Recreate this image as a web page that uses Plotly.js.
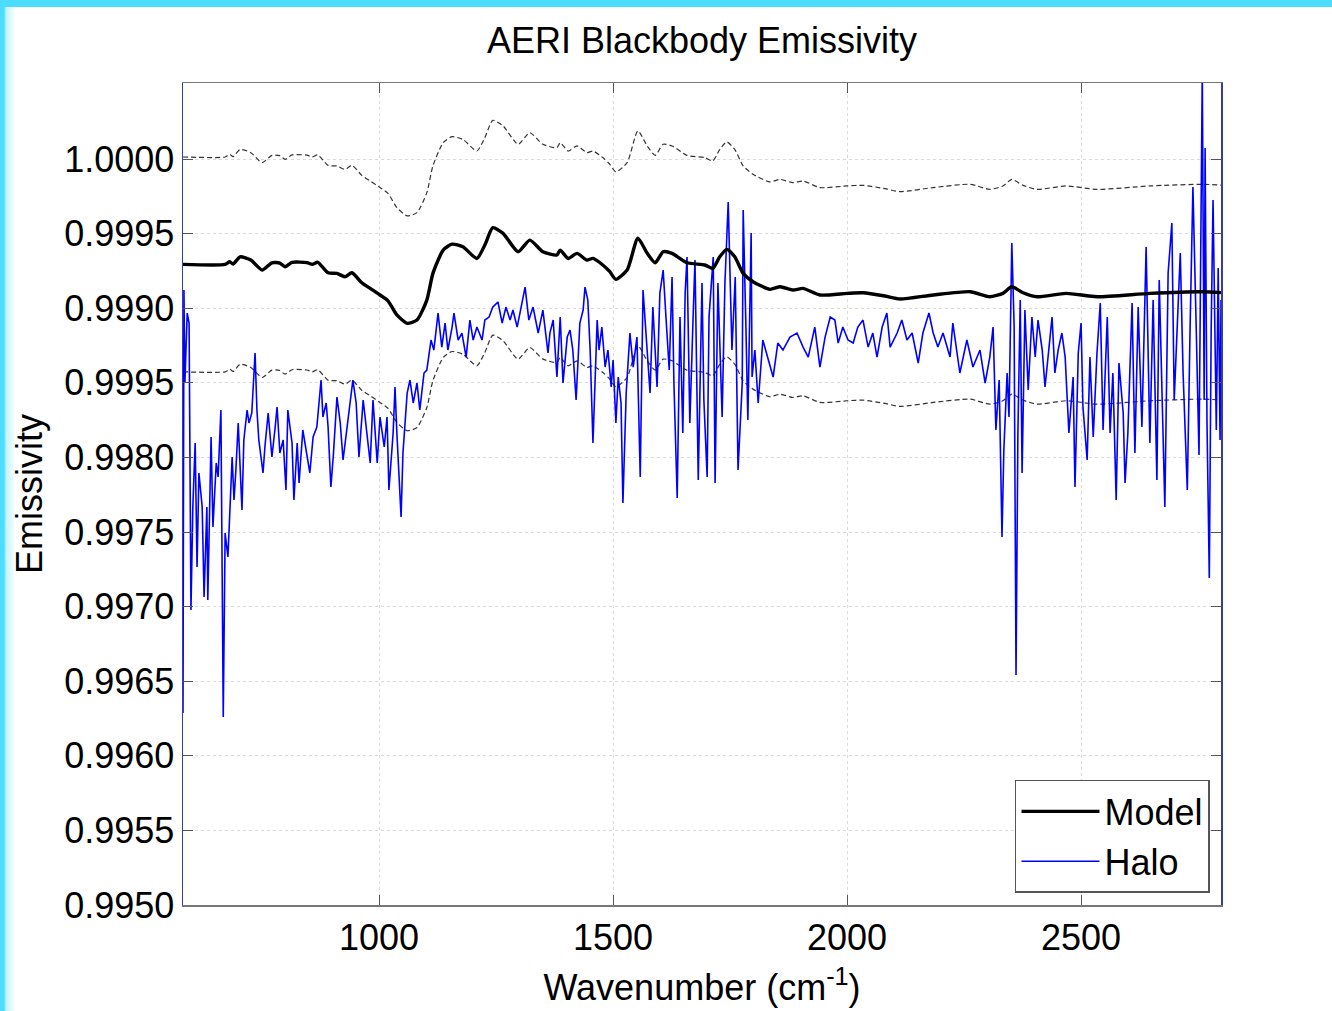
<!DOCTYPE html>
<html>
<head>
<meta charset="utf-8">
<script src="https://cdn.plot.ly/plotly-3.0.1.min.js"></script>
<style>
  html, body { margin: 0; padding: 0; }
  body {
    width: 1332px; height: 1011px; overflow: hidden;
    background:
      linear-gradient(to bottom, #4CDCFE 0px, #4CDCFE 7px, rgba(255,255,255,0) 7px),
      linear-gradient(to right, #4CDCFE 0px, #4CDCFE 4px, rgba(76,220,254,0.35) 6px, rgba(255,255,255,0) 16px),
      #ffffff;
  }
  #chart { width: 1332px; height: 1011px; }
</style>
</head>
<body>
<div id="chart"></div>
<script>
// ---- Data ----
const modelWn = [581,671,681,688,703,726,750,771,788,799,814,846,857,869,891,910,927,942,963,981,
  1002,1019,1038,1060,1081,1102,1115,1137,1156,1179,1209,1226,1243,1265,1297,1322,1350,1380,1387,1404,
  1423,1444,1457,1478,1493,1506,1530,1553,1573,1590,1607,1626,1658,1696,1713,1728,1743,1760,1778,1799,
  1835,1857,1884,1906,1942,2000,2034,2081,2113,2184,2263,2305,2333,2352,2376,2406,2468,2534,2647,2761,2799];

const modelEm = [0.999294,0.999294,0.999312,0.999296,0.999345,0.999323,0.999256,0.999305,0.999303,0.999278,
  0.999308,0.999306,0.999294,0.999308,0.999238,0.999234,0.999211,0.999238,0.999171,0.999133,
  0.999089,0.999050,0.998955,0.998899,0.998921,0.999055,0.999234,0.999390,0.999430,0.999412,
  0.999334,0.999424,0.999540,0.999502,0.999379,0.999457,0.999379,0.999357,0.999390,0.999334,
  0.999368,0.999323,0.999334,0.999290,0.999245,0.999194,0.999256,0.999469,0.999368,0.999305,
  0.999379,0.999368,0.999305,0.999290,0.999267,0.999345,0.999395,0.999345,0.999234,0.999178,
  0.999127,0.999144,0.999122,0.999133,0.999089,0.999100,0.999104,0.999082,0.999062,0.999089,
  0.999111,0.999077,0.999100,0.999144,0.999104,0.999077,0.999100,0.999077,0.999100,0.999111,0.999105];

const modelUpper = [1.000014,1.000014,1.000032,1.000016,1.000065,1.000043,0.999976,1.000025,1.000023,0.999998,
  1.000028,1.000026,1.000014,1.000028,0.999958,0.999954,0.999931,0.999958,0.999891,0.999853,
  0.999809,0.999770,0.999675,0.999619,0.999641,0.999775,0.999954,1.000110,1.000150,1.000132,
  1.000054,1.000144,1.000260,1.000222,1.000099,1.000177,1.000099,1.000077,1.000110,1.000054,
  1.000088,1.000043,1.000054,1.000010,0.999965,0.999914,0.999976,1.000189,1.000088,1.000025,
  1.000099,1.000088,1.000025,1.000010,0.999987,1.000065,1.000115,1.000065,0.999954,0.999898,
  0.999847,0.999864,0.999842,0.999853,0.999809,0.999820,0.999824,0.999802,0.999782,0.999809,
  0.999831,0.999797,0.999820,0.999864,0.999824,0.999797,0.999820,0.999797,0.999820,0.999831,0.999825];

const modelLower = [0.998574,0.998574,0.998592,0.998576,0.998625,0.998603,0.998536,0.998585,0.998583,0.998558,
  0.998588,0.998586,0.998574,0.998588,0.998518,0.998514,0.998491,0.998518,0.998451,0.998413,
  0.998369,0.998330,0.998235,0.998179,0.998201,0.998335,0.998514,0.998670,0.998710,0.998692,
  0.998614,0.998704,0.998820,0.998782,0.998659,0.998737,0.998659,0.998637,0.998670,0.998614,
  0.998648,0.998603,0.998614,0.998570,0.998525,0.998474,0.998536,0.998749,0.998648,0.998585,
  0.998659,0.998648,0.998585,0.998570,0.998547,0.998625,0.998675,0.998625,0.998514,0.998458,
  0.998407,0.998424,0.998402,0.998413,0.998369,0.998380,0.998384,0.998362,0.998342,0.998369,
  0.998391,0.998357,0.998380,0.998424,0.998384,0.998357,0.998380,0.998357,0.998380,0.998391,0.998385];

const haloWn = [581,583,585,590,594,598,602,607,611,615,622,626,632,634,641,645,652,656,662,667,
  671,677,686,690,694,699,707,711,718,722,728,735,739,743,752,756,763,771,778,782,
  788,795,801,805,814,818,825,829,837,846,852,859,867,876,880,887,891,897,902,910,
  917,923,932,938,944,951,957,966,972,981,987,996,1002,1011,1017,1021,1030,1034,1038,1047,
  1051,1060,1066,1073,1081,1087,1096,1102,1111,1117,1126,1134,1141,1147,1156,1160,1169,1177,1186,1194,
  1201,1209,1220,1226,1235,1243,1254,1263,1271,1280,1286,1295,1301,1312,1320,1329,1340,1350,1361,1365,
  1372,1380,1387,1393,1402,1408,1414,1421,1429,1436,1440,1446,1451,1457,1466,1470,1476,1483,1489,1496,
  1500,1506,1511,1517,1521,1528,1536,1543,1551,1558,1564,1573,1579,1585,1594,1600,1607,1613,1620,1626,
  1630,1637,1643,1649,1654,1658,1664,1671,1675,1682,1690,1694,1701,1705,1714,1718,1724,1733,1739,1746,
  1754,1761,1767,1776,1778,1784,1788,1795,1797,1803,1810,1820,1831,1842,1852,1863,1878,1893,1906,1917,
  1931,1942,1953,1964,1974,1981,1991,2002,2013,2023,2034,2045,2055,2064,2075,2085,2092,2107,2117,2128,
  2139,2152,2162,2175,2184,2194,2205,2220,2226,2241,2256,2269,2284,2295,2305,2312,2318,2325,2331,2335,
  2342,2346,2352,2357,2361,2365,2370,2374,2380,2387,2395,2402,2408,2417,2423,2429,2438,2444,2451,2459,
  2466,2474,2483,2487,2494,2500,2504,2513,2519,2526,2534,2541,2547,2556,2562,2568,2575,2581,2590,2594,
  2600,2609,2615,2622,2630,2639,2647,2654,2662,2667,2675,2679,2686,2694,2699,2705,2712,2718,2727,2733,
  2739,2746,2752,2759,2763,2765,2769,2774,2778,2782,2789,2793,2797,2799];

const haloEm = [0.996287,0.999122,0.998499,0.998968,0.998901,0.996977,0.997668,0.998097,0.997266,0.997896,
  0.997668,0.997065,0.997668,0.997044,0.998137,0.997534,0.997963,0.997869,0.998318,0.996260,
  0.997493,0.997333,0.998003,0.997715,0.997916,0.998231,0.997648,0.998117,0.998318,0.998231,
  0.998298,0.998700,0.998318,0.998117,0.997896,0.998070,0.998298,0.998003,0.998204,0.998338,
  0.998030,0.998117,0.997782,0.998318,0.998097,0.997715,0.998097,0.997829,0.998184,0.998003,
  0.997896,0.998137,0.998204,0.998519,0.998271,0.998365,0.998204,0.997802,0.998003,0.998405,
  0.998231,0.997983,0.998204,0.998365,0.998519,0.998365,0.998003,0.998385,0.998204,0.997963,
  0.998385,0.997963,0.998271,0.998070,0.998271,0.997782,0.998164,0.998472,0.998164,0.997601,
  0.998030,0.998432,0.998519,0.998365,0.998499,0.998318,0.998566,0.998586,0.998787,0.998720,
  0.998968,0.998740,0.998901,0.998720,0.998874,0.998968,0.998787,0.998834,0.998673,0.998921,
  0.998787,0.998874,0.998787,0.998921,0.998941,0.999008,0.999042,0.998901,0.999008,0.998921,
  0.998988,0.998874,0.998968,0.999142,0.998921,0.999008,0.998834,0.998988,0.998700,0.998834,
  0.998921,0.998539,0.998941,0.998499,0.998807,0.998854,0.998720,0.998385,0.998901,0.998988,
  0.999142,0.999055,0.998720,0.998097,0.998921,0.998720,0.998874,0.998606,0.998720,0.998472,
  0.998653,0.998231,0.998539,0.998365,0.997694,0.998432,0.998834,0.998606,0.998807,0.997869,
  0.999122,0.998720,0.998432,0.999008,0.998472,0.999102,0.999256,0.998941,0.998586,0.999209,
  0.998499,0.997728,0.998941,0.998164,0.999102,0.999343,0.998231,0.998941,0.999323,0.997849,
  0.999169,0.998385,0.997869,0.998941,0.999343,0.997829,0.999169,0.998271,0.999169,0.999712,
  0.998720,0.999209,0.997916,0.998499,0.999658,0.998854,0.998251,0.999504,0.998539,0.998720,
  0.998365,0.998787,0.998653,0.998539,0.998767,0.998720,0.998807,0.998834,0.998740,0.998673,
  0.998874,0.998606,0.998807,0.998941,0.998921,0.998767,0.998874,0.998787,0.998767,0.998874,
  0.998921,0.998740,0.998834,0.998673,0.998874,0.998968,0.998740,0.998834,0.998921,0.998787,
  0.998834,0.998633,0.998834,0.998968,0.998834,0.998740,0.998834,0.998673,0.998901,0.998566,
  0.998787,0.998606,0.998720,0.998499,0.998673,0.998874,0.998184,0.998519,0.997467,0.998050,
  0.998566,0.998271,0.999437,0.998874,0.996542,0.998164,0.999055,0.997896,0.998988,0.998452,
  0.998941,0.998673,0.998921,0.998720,0.998472,0.998653,0.998941,0.998566,0.998720,0.998834,
  0.998673,0.998164,0.998539,0.997802,0.998700,0.998901,0.998338,0.997983,0.998673,0.998137,
  0.998700,0.999035,0.998184,0.998941,0.998164,0.998566,0.997715,0.998633,0.998298,0.997829,
  0.998164,0.999035,0.998030,0.999008,0.998204,0.999410,0.998097,0.999055,0.997849,0.999189,
  0.998271,0.997668,0.999236,0.999571,0.998385,0.998834,0.999370,0.998566,0.997782,0.998874,
  0.999812,0.998874,0.998016,1.000596,0.998385,1.000074,0.998251,0.997192,0.998854,0.999725,
  0.998184,0.999270,0.998117,0.999055];

const xTickVals = [1000, 1500, 2000, 2500];
const xTickText = ['1000', '1500', '2000', '2500'];
const yTickVals = [0.9950, 0.9955, 0.9960, 0.9965, 0.9970, 0.9975, 0.9980, 0.9985, 0.9990, 0.9995, 1.0000];
const yTickText = ['0.9950', '0.9955', '0.9960', '0.9965', '0.9970', '0.9975', '0.9980', '0.9995', '0.9990', '0.9995', '1.0000'];

// ---- Chart ----
const FONT = 'Liberation Sans, Arial, Helvetica, sans-serif';

const traces = [
  {
    x: modelWn, y: modelUpper, type: 'scatter', mode: 'lines', showlegend: false, hoverinfo: 'skip',
    line: { color: '#333333', width: 1.2, dash: '5px,3px', shape: 'spline', smoothing: 0.6 }
  },
  {
    x: modelWn, y: modelLower, type: 'scatter', mode: 'lines', showlegend: false, hoverinfo: 'skip',
    line: { color: '#333333', width: 1.2, dash: '5px,3px', shape: 'spline', smoothing: 0.6 }
  },
  {
    x: haloWn, y: haloEm, type: 'scatter', mode: 'lines', name: 'Halo',
    line: { color: '#0000ff', width: 1.6 }
  },
  {
    x: modelWn, y: modelEm, type: 'scatter', mode: 'lines', name: 'Model',
    line: { color: '#000000', width: 3.4, shape: 'spline', smoothing: 0.6 }
  }
];

const layout = {
  width: 1332, height: 1011,
  paper_bgcolor: 'rgba(0,0,0,0)',
  plot_bgcolor: '#ffffff',
  margin: { l: 183, r: 111, t: 83, b: 106, pad: 0 },
  font: { family: FONT, size: 36, color: '#000000' },
  title: {
    text: 'AERI Blackbody Emissivity',
    font: { family: FONT, size: 36, color: '#000000' },
    xref: 'container', yref: 'container',
    x: 0.527, y: 0.9604, xanchor: 'center', yanchor: 'middle'
  },
  xaxis: {
    range: [581, 2799],
    tickmode: 'array', tickvals: xTickVals, ticktext: xTickText,
    ticks: 'inside', ticklen: 10, tickwidth: 1, tickcolor: '#555555',
    showline: true, linecolor: '#777777', linewidth: 1.5, mirror: 'ticks',
    showgrid: true, gridcolor: '#dadada', griddash: 'dot', gridwidth: 1,
    zeroline: false,
    tickfont: { family: FONT, size: 36, color: '#000000' },
    title: { text: 'Wavenumber (cm<sup>-1</sup>)', font: { family: FONT, size: 36, color: '#000000' }, standoff: 18 }
  },
  yaxis: {
    range: [0.9950, 1.00051],
    tickmode: 'array', tickvals: yTickVals, ticktext: yTickText,
    ticks: 'inside', ticklen: 10, tickwidth: 1, tickcolor: '#555555',
    showline: true, linecolor: '#3a3aa0', linewidth: 1.5, mirror: 'ticks',
    showgrid: true, gridcolor: '#dadada', griddash: 'dot', gridwidth: 1,
    zeroline: false,
    tickfont: { family: FONT, size: 36, color: '#000000' },
    title: { text: 'Emissivity', font: { family: FONT, size: 36, color: '#000000' }, standoff: 10 }
  },
  legend: {
    x: 0.9894, y: 0.0146, xanchor: 'right', yanchor: 'bottom',
    bgcolor: '#ffffff', bordercolor: '#555555', borderwidth: 1.5,
    font: { family: FONT, size: 36, color: '#000000' },
    traceorder: 'reversed', itemwidth: 78
  },
  showlegend: true,
  hovermode: false
};

Plotly.newPlot('chart', traces, layout, { displayModeBar: false, staticPlot: true });
</script>
</body>
</html>
